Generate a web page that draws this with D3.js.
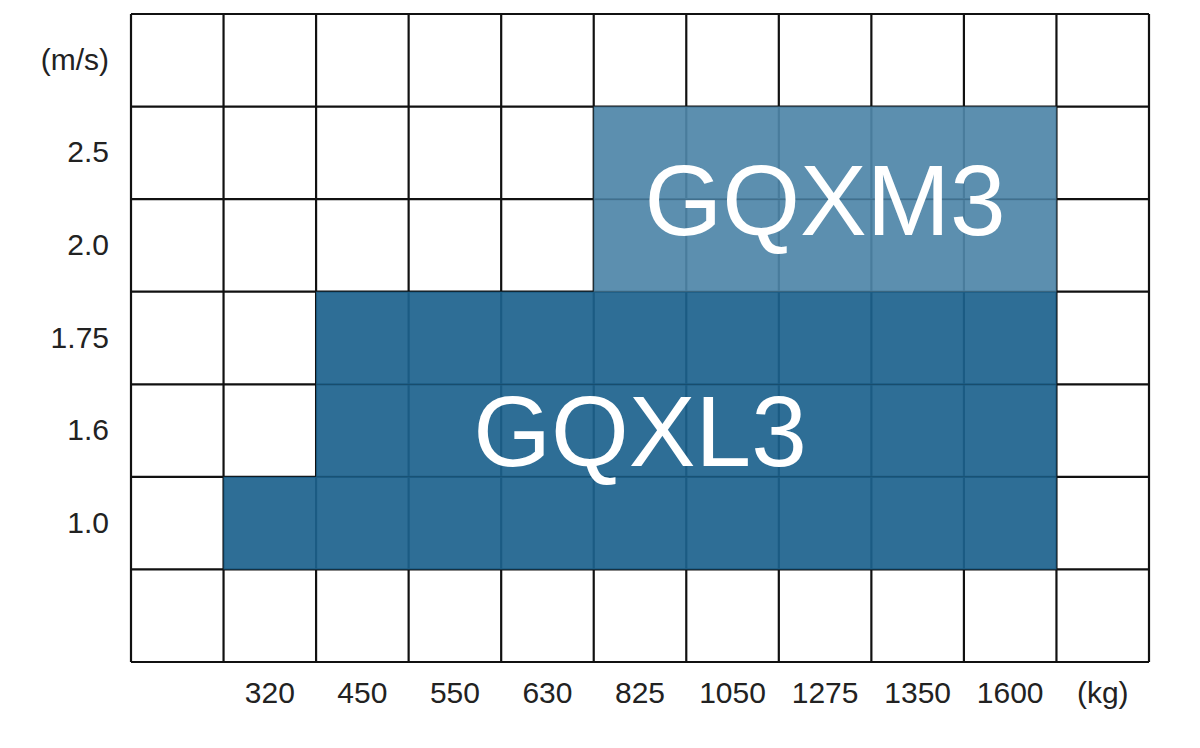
<!DOCTYPE html>
<html>
<head>
<meta charset="utf-8">
<script src="https://cdn.jsdelivr.net/npm/d3@7"></script>
<style>
  html, body { margin: 0; padding: 0; background: #ffffff; }
  svg { display: block; }
</style>
</head>
<body>
<svg id="chart" width="1200" height="748"></svg>
<script>
// ---- data ----
const loadLabels  = ["", "320", "450", "550", "630", "825", "1050", "1275", "1350", "1600", "(kg)"];
const speedLabels = ["(m/s)", "2.5", "2.0", "1.75", "1.6", "1.0", ""];

// GQXL3 coverage: speed row -> first and last load column
const gqxl3Speeds = ["1.75", "1.6", "1.0"];
const gqxl3From   = ["450", "450", "320"];
const gqxl3To     = ["1600", "1600", "1600"];

// GQXM3 coverage
const gqxm3Speeds = ["2.5", "2.0"];
const gqxm3From   = ["825", "825"];
const gqxm3To     = ["1600", "1600"];

const seriesNames = ["GQXL3", "GQXM3"];

// ---- layout ----
const svg = d3.select("#chart");
const gLeft = 131, gRight = 1149, gTop = 14, gBottom = 662;

const xKeys = loadLabels.map((d, i) => "c" + i);
const yKeys = speedLabels.map((d, i) => "r" + i);
const xKey = l => "c" + loadLabels.indexOf(l);
const yKey = s => "r" + speedLabels.indexOf(s);

const x = d3.scaleBand().domain(xKeys).range([gLeft, gRight]).padding(0);
const y = d3.scaleBand().domain(yKeys).range([gTop, gBottom]).padding(0);

// ---- grid ----
const grid = svg.append("g").attr("stroke", "#111").attr("stroke-width", 2.2).attr("fill", "none");
xKeys.concat(["end"]).forEach((k, i) => {
  const xp = i < xKeys.length ? x(k) : gRight;
  grid.append("line").attr("x1", xp).attr("x2", xp).attr("y1", gTop).attr("y2", gBottom);
});
yKeys.concat(["end"]).forEach((k, i) => {
  const yp = i < yKeys.length ? y(k) : gBottom;
  grid.append("line").attr("y1", yp).attr("y2", yp).attr("x1", gLeft).attr("x2", gRight);
});

// ---- blocks ----
function drawSeries(speeds, from, to, color) {
  const rows = speeds.map((s, i) => ({ s, f: from[i], t: to[i] }));
  svg.append("g").selectAll("rect").data(rows).join("rect")
    .attr("x", d => x(xKey(d.f)))
    .attr("y", d => y(yKey(d.s)))
    .attr("width", d => x(xKey(d.t)) + x.bandwidth() - x(xKey(d.f)))
    .attr("height", y.bandwidth())
    .attr("fill", color)
    .attr("fill-opacity", 0.92);
  const x0 = d3.min(rows, d => x(xKey(d.f)));
  const x1 = d3.max(rows, d => x(xKey(d.t)) + x.bandwidth());
  const y0 = d3.min(rows, d => y(yKey(d.s)));
  const y1 = d3.max(rows, d => y(yKey(d.s)) + y.bandwidth());
  return { x0, x1, y0, y1 };
}

const bL = drawSeries(gqxl3Speeds, gqxl3From, gqxl3To, "#1c628d");
const bM = drawSeries(gqxm3Speeds, gqxm3From, gqxm3To, "#4e85a8");

// series labels
const labelFont = 100;
const lblL = {
  cx: (x(xKey("320")) + x(xKey("1600")) + x.bandwidth()) / 2,
  cy: (bL.y0 + bL.y1) / 2
};
const lblM = { cx: (bM.x0 + bM.x1) / 2, cy: (bM.y0 + bM.y1) / 2 };
[[seriesNames[0], lblL], [seriesNames[1], lblM]].forEach(([name, p]) => {
  svg.append("text")
    .attr("x", p.cx)
    .attr("y", p.cy + labelFont * 0.358)
    .attr("text-anchor", "middle")
    .attr("font-family", "Liberation Sans, Arial, Helvetica, sans-serif")
    .attr("font-size", labelFont)
    .attr("fill", "#ffffff")
    .text(name);
});

// ---- axis labels ----
const yAxis = d3.axisLeft(y).tickSize(0).tickPadding(22)
  .tickFormat(k => speedLabels[yKeys.indexOf(k)]);
const gy = svg.append("g").attr("transform", `translate(${gLeft},0)`).call(yAxis);
gy.select(".domain").remove();
gy.selectAll("text")
  .attr("font-family", "Liberation Sans, Arial, Helvetica, sans-serif")
  .attr("font-size", 30).attr("fill", "#222");

const xAxis = d3.axisBottom(x).tickSize(0).tickPadding(20)
  .tickFormat(k => loadLabels[xKeys.indexOf(k)]);
const gx = svg.append("g").attr("transform", `translate(0,${gBottom})`).call(xAxis);
gx.select(".domain").remove();
gx.selectAll("text")
  .attr("font-family", "Liberation Sans, Arial, Helvetica, sans-serif")
  .attr("font-size", 30).attr("fill", "#222");
</script>
</body>
</html>
